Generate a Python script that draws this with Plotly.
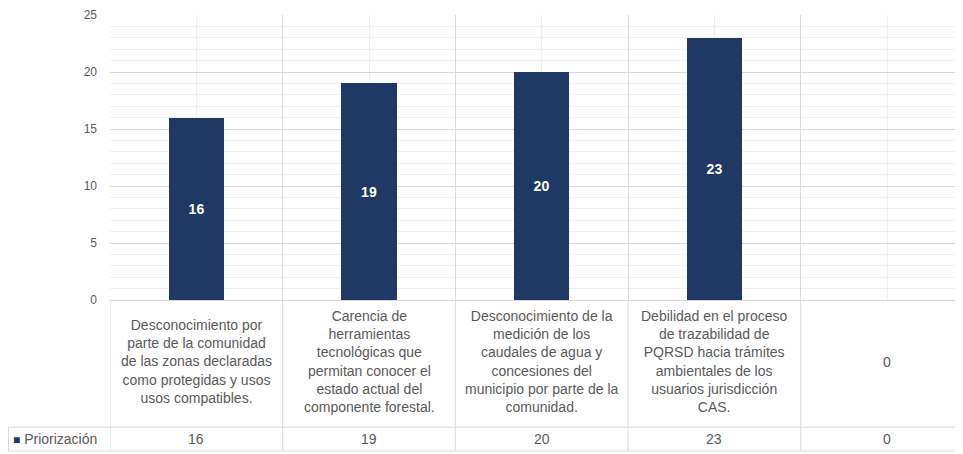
import plotly.graph_objects as go

categories = [
    "Desconocimiento por<br>parte de la comunidad<br>de las zonas declaradas<br>como protegidas y usos<br>usos compatibles.",
    "Carencia de<br>herramientas<br>tecnológicas que<br>permitan conocer el<br>estado actual del<br>componente forestal.",
    "Desconocimiento de la<br>medición de los<br>caudales de agua y<br>concesiones del<br>municipio por parte de la<br>comunidad.",
    "Debilidad en el proceso<br>de trazabilidad de<br>PQRSD hacia trámites<br>ambientales de los<br>usuarios jurisdicción<br>CAS.",
    "0",
]
values = [16, 19, 20, 23, 0]
series_name = "Priorización"
y_ticks = [0, 5, 10, 15, 20, 25]

BAR = "#1F3864"
GRID = "#d9d9d9"
MINOR = "#f0f0f0"
TXT = "#595959"
FONT = "Liberation Sans, Arial, sans-serif"

OFF = 8  # page body margin
W, H = 963 - OFF, 454 - OFF
L, R, T, B = 110 - OFF, 0, 13 - OFF, 454 - 300
plot_h = H - T - B
plot_w = W - L - R

def py(screen_y):
    return (H - B - (screen_y - OFF)) / plot_h

def px(screen_x):
    return ((screen_x - OFF) - L) / plot_w

xs = list(range(len(values)))

fig = go.Figure()
fig.add_trace(go.Bar(
    x=xs, y=values, width=0.32, marker=dict(color=BAR, line=dict(width=0)),
    text=[str(v) if v else "" for v in values],
    textposition="inside", insidetextanchor="middle", textangle=0,
    textfont=dict(color="white", size=14, family=FONT, weight="bold"),
    name=series_name, showlegend=False, cliponaxis=False,
))

shapes = []
for i in range(len(values) + 1):
    shapes.append(dict(type="line", xref="x", yref="paper",
                       x0=i - 0.5, x1=i - 0.5, y0=0, y1=py(452),
                       line=dict(color=GRID, width=1)))
for yy in (428, 452):
    shapes.append(dict(type="line", xref="paper", yref="paper",
                       x0=px(8.5), x1=1, y0=py(yy), y1=py(yy),
                       line=dict(color=GRID, width=1)))
shapes.append(dict(type="line", xref="paper", yref="paper",
                   x0=px(8.5), x1=px(8.5), y0=py(428), y1=py(452),
                   line=dict(color=GRID, width=1)))

annotations = []
for i, (c, v) in enumerate(zip(categories, values)):
    annotations.append(dict(x=i, y=py(362), xref="x", yref="paper", text=c,
                            showarrow=False, yanchor="middle", xanchor="center",
                            align="center", font=dict(size=14, color=TXT, family=FONT)))
    annotations.append(dict(x=i, y=py(440), xref="x", yref="paper", text=str(v),
                            showarrow=False, yanchor="middle", xanchor="center",
                            font=dict(size=14, color=TXT, family=FONT)))
annotations.append(dict(x=px(11), y=py(440), xref="paper", yref="paper",
                        text=f"<span style='color:{BAR};font-size:12px'>■</span> {series_name}",
                        showarrow=False, xanchor="left", yanchor="middle",
                        font=dict(size=14, color=TXT, family=FONT)))

fig.update_layout(
    width=W, height=H,
    margin=dict(l=L, r=R, t=T, b=B, pad=0),
    paper_bgcolor="white", plot_bgcolor="white",
    font=dict(family=FONT, color=TXT),
    xaxis=dict(range=[-0.5, 4.44], tick0=-0.5, dtick=1, showticklabels=False,
               showgrid=True, gridcolor=GRID, gridwidth=1, zeroline=False,
               ticks="", showline=False,
               minor=dict(dtick=0.5, tick0=-0.5, showgrid=True, gridcolor=MINOR, gridwidth=1)),
    yaxis=dict(range=[0, 25], tickvals=y_ticks, showgrid=True, gridcolor=GRID,
               gridwidth=1, zeroline=True, zerolinecolor=GRID, zerolinewidth=1,
               ticks="", ticklabelstandoff=12, ticklabeloverflow="allow",
               tickfont=dict(size=12, color=TXT, family=FONT),
               minor=dict(dtick=1, showgrid=True, gridcolor=MINOR, gridwidth=1)),
    shapes=shapes, annotations=annotations, bargap=0,
)

fig.write_html("out.html")
